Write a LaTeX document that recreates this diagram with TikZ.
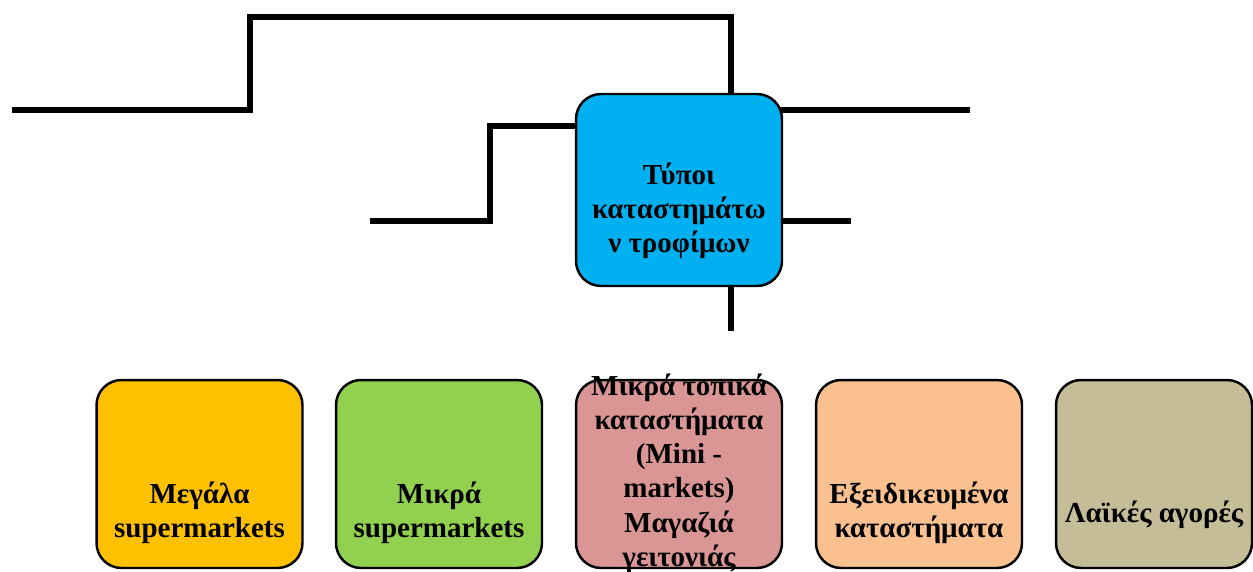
\documentclass[tikz,border=0pt]{standalone}
\usepackage{fontspec}
\setmainfont{Liberation Serif}
\usetikzlibrary{positioning,backgrounds}
\definecolor{hubblue}{HTML}{00B0F0}
\definecolor{bigorange}{HTML}{FFC000}
\definecolor{smallgreen}{HTML}{92D050}
\definecolor{minipink}{HTML}{D99694}
\definecolor{specpeach}{HTML}{FAC090}
\definecolor{marketkhaki}{HTML}{C4BD97}
\tikzset{
 catbox/.style={draw=black, line width=1.4pt, rounded corners=0.5cm, minimum width=4.12cm, minimum height=3.76cm, inner sep=0pt},
 boxtext/.style={align=center, inner sep=0pt, font=\bfseries\fontsize{16.5}{19.5}\selectfont},
 link/.style={line width=3.4pt}
}

\begin{document}
\begin{tikzpicture}[x=0.02cm,y=-0.02cm]
 \useasboundingbox (0,0) rectangle (1253,571);
 \clip (0,0) rectangle (1253,571);
 % main box
 \node[catbox, fill=hubblue, minimum height=3.84cm] (hub) at (679,190) {};
 \node[boxtext] (hubtext) at (679,211) {Τύποι\\καταστημάτω\\ν τροφίμων};
 % free ends
 \coordinate (w1) at (12,110);
 \coordinate (w2) at (370,221);
 \coordinate (e1) at (970,110);
 \coordinate (e2) at (851,221);
 \coordinate (s1) at (731,331);
 \begin{scope}[on background layer]
 \draw[link] (w1) -| (250,17) -| (hub.center -| 731,0);
 \draw[link] (w2) -| (490,126) -- (hub.center |- 0,126);
 \draw[link] (hub.center |- 0,110) -- (e1);
 \draw[link] (hub.center |- 0,221) -- (e2);
 \draw[link] (hub.center -| 731,0) -- (s1);
 \end{scope}
 % store types
 \node[catbox, fill=bigorange] (b1) at (199.5,474) {};
 \node[catbox, fill=smallgreen] (b2) at (439,474) {};
 \node[catbox, fill=minipink] (b3) at (679,474) {};
 \node[catbox, fill=specpeach] (b4) at (919,474) {};
 \node[catbox, fill=marketkhaki, minimum width=3.92cm] (b5) at (1154,474) {};
 \node[boxtext] (t1) at (199.5,513) {Μεγάλα\\supermarkets};
 \node[boxtext] (t2) at (439,513) {Μικρά\\supermarkets};
 \node[boxtext] (t3) at (679,473) {Μικρά τοπικά\\καταστήματα\\(Mini -\\markets)\\Μαγαζιά\\γειτονιάς};
 \node[boxtext] (t4) at (919,513) {Εξειδικευμένα\\καταστήματα};
 \node[boxtext] (t5) at (1154,515) {Λαϊκές αγορές};
\end{tikzpicture}
\end{document}
